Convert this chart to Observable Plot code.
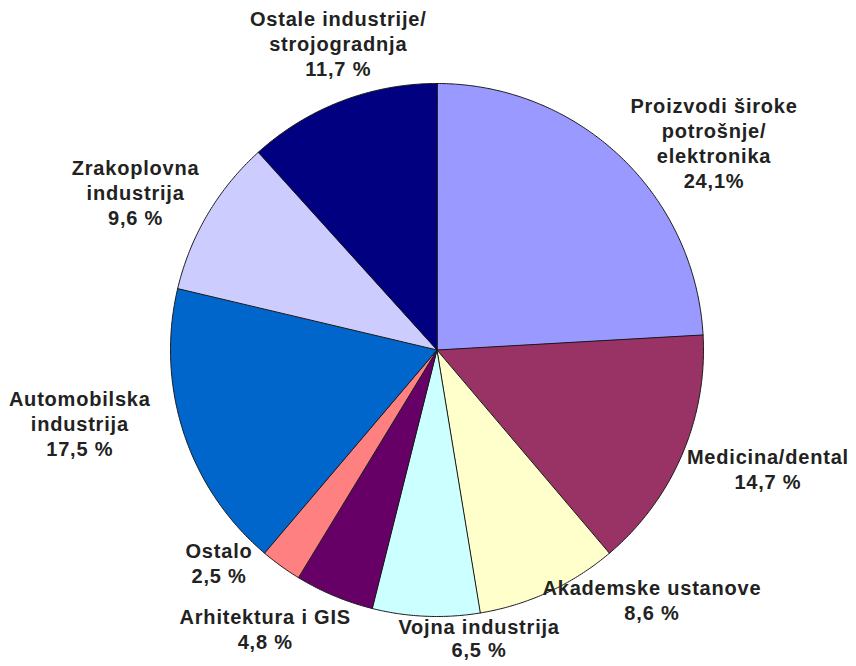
<!DOCTYPE html>
<html>
<head>
<meta charset="utf-8">
<script src="https://cdn.jsdelivr.net/npm/d3@7"></script>
<script src="https://cdn.jsdelivr.net/npm/@observablehq/plot@0.6"></script>
<style>
  html, body { margin: 0; padding: 0; background: #ffffff; }
  #chart { width: 856px; height: 666px; }
</style>
</head>
<body>
<div id="chart"></div>
<script>
// ---- data ----
const categories = [
  "Proizvodi široke\npotrošnje/\nelektronika",
  "Medicina/dental",
  "Akademske ustanove",
  "Vojna industrija",
  "Arhitektura i GIS",
  "Ostalo",
  "Automobilska\nindustrija",
  "Zrakoplovna\nindustrija",
  "Ostale industrije/\nstrojogradnja"
];
const values = [24.1, 14.7, 8.6, 6.5, 4.8, 2.5, 17.5, 9.6, 11.7];
const valueLabels = ["24,1%", "14,7 %", "8,6 %", "6,5 %", "4,8 %", "2,5 %", "17,5 %", "9,6 %", "11,7 %"];

// ---- styles / layout ----
const colors = ["#9999FF", "#993366", "#FFFFCC", "#CCFFFF", "#660066", "#FF8080", "#0066CC", "#CCCCFF", "#000080"];
// label offsets (px) from the midpoint of each slice's rim
const labelDx = [94, 86, 103, 53, -69, -62, -104, -72, -3];
const labelDy = [-14, 13, 8, 22, 33, -4, -10, -22, -58];
const labelLineHeight = [1.25, 1.25, 1.25, 1.15, 1.25, 1.25, 1.25, 1.25, 1.25];

const W = 856, H = 666;
const cx = 436.5, cy = 349.5, R = 266.5;

const arcs = d3.pie().sort(null).value(d => d)(values);

// polygon vertices for each slice, derived from the pie angles
const slicePts = [];
arcs.forEach((a, i) => {
  slicePts.push({i, x: 0, y: 0, color: colors[i]});
  const n = Math.max(4, Math.ceil((a.endAngle - a.startAngle) / (Math.PI / 360)));
  for (let k = 0; k <= n; k++) {
    const t = a.startAngle + (a.endAngle - a.startAngle) * k / n;
    slicePts.push({i, x: Math.sin(t), y: Math.cos(t), color: colors[i]});
  }
});

const labelData = arcs.map((a, i) => {
  const m = (a.startAngle + a.endAngle) / 2;
  return {x: Math.sin(m), y: Math.cos(m), text: categories[i] + "\n" + valueLabels[i]};
});

const textMarks = labelData.map((d, i) => Plot.text([d], {
  x: "x", y: "y", text: "text",
  dx: labelDx[i], dy: labelDy[i],
  textAnchor: "middle", lineAnchor: "middle",
  lineHeight: labelLineHeight[i],
  fontSize: 20, fontWeight: "bold",
  fill: "#222222"
}));

const chart = Plot.plot({
  width: W, height: H,
  margin: 0,
  style: {fontFamily: "'Liberation Sans', Arial, sans-serif", letterSpacing: "0.8px", background: "#ffffff"},
  x: {domain: [-cx / R, (W - cx) / R], axis: null},
  y: {domain: [-(H - cy) / R, cy / R], axis: null},
  color: {type: "identity"},
  marks: [
    Plot.line(slicePts, {x: "x", y: "y", z: "i", fill: "color", stroke: "#1a1a1a", strokeWidth: 1, curve: "linear-closed", strokeLinejoin: "round"}),
    ...textMarks
  ]
});
document.getElementById("chart").appendChild(chart);
</script>
</body>
</html>
